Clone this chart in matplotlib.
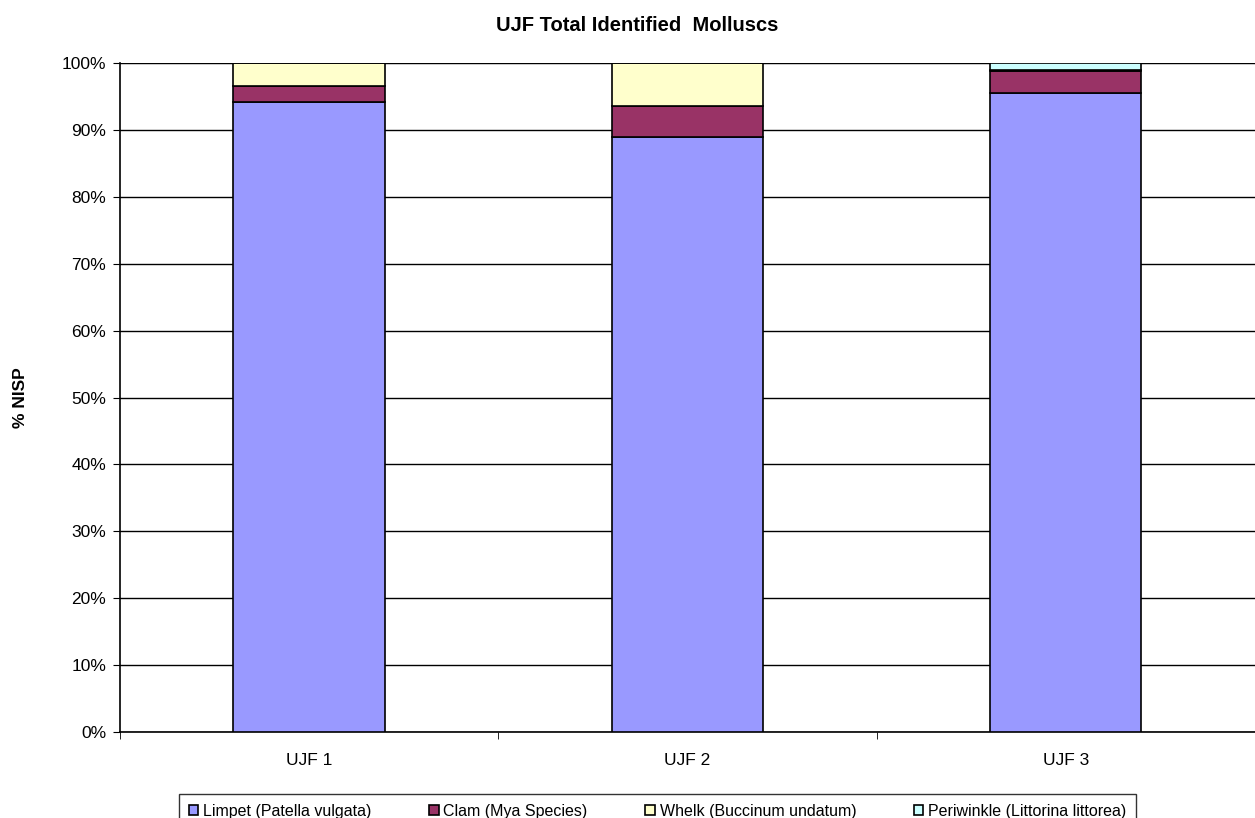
import matplotlib.pyplot as plt
import numpy as np

plt.rcParams['font.family'] = ['Liberation Sans', 'DejaVu Sans']

sites = ['UJF 1', 'UJF 2', 'UJF 3']
limpet = [94.1, 88.9, 95.5]
clam = [2.5, 4.7, 3.3]
whelk = [3.4, 6.4, 0.2]
periwinkle = [0.0, 0.0, 1.0]

series = [
    ('Limpet (Patella vulgata)', limpet, '#9999ff'),
    ('Clam (Mya Species)', clam, '#993366'),
    ('Whelk (Buccinum undatum)', whelk, '#ffffcc'),
    ('Periwinkle (Littorina littorea)', periwinkle, '#ccffff'),
]

fig = plt.figure(figsize=(12.55, 8.18), dpi=100)
ax = fig.add_axes([0.0956, 0.1051, 0.9044, 0.8179])

x = np.arange(len(sites))
bottom = np.zeros(len(sites))
handles = []
for name, vals, col in series:
    b = ax.bar(x, vals, 0.4, bottom=bottom, color=col, edgecolor='black',
               linewidth=1.2, label=name, zorder=3)
    handles.append(b)
    bottom += np.array(vals)

ax.set_xlim(-0.5, 2.5)
ax.set_ylim(0, 100)
ax.set_yticks(np.arange(0, 101, 10))
ax.set_yticklabels([f'{v}%' for v in range(0, 101, 10)], fontsize=12.5)
ax.set_xticks(x)
ax.set_xticklabels(sites, fontsize=12.5)
ax.set_xticks([-0.5, 0.5, 1.5, 2.5], minor=True)
ax.tick_params(axis='x', which='major', length=0, pad=15)
ax.tick_params(axis='x', which='minor', length=5, direction='out')
ax.tick_params(axis='y', length=5, direction='out', pad=5)
ax.yaxis.grid(True, color='black', linewidth=1, zorder=0)
for s in ['top', 'right']:
    ax.spines[s].set_visible(False)
ax.spines['left'].set_linewidth(1.2)
ax.spines['bottom'].set_linewidth(1.2)
ax.axhline(100, color='#666666', linewidth=1.5, zorder=1)

ax.set_ylabel('% NISP', fontsize=12.5, fontweight='bold', labelpad=24)
fig.text(0.508, 0.969, 'UJF Total Identified  Molluscs', fontsize=14.5,
         fontweight='bold', ha='center', va='center')

leg = fig.legend(handles=handles, loc='upper center', bbox_to_anchor=(0.524, 0.029),
                 ncol=4, fontsize=11.5, frameon=True, fancybox=False,
                 edgecolor='black', handlelength=0.6, handleheight=0.6,
                 handletextpad=0.3, columnspacing=3.6, borderpad=0.6,
                 borderaxespad=0)
leg.get_frame().set_linewidth(1)

fig.savefig('out.png', dpi=100)
